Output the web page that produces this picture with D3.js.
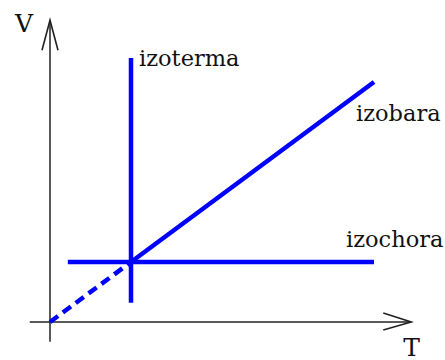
<!DOCTYPE html>
<html>
<head>
<meta charset="utf-8">
<script src="https://cdn.jsdelivr.net/npm/d3@7"></script>
<style>
  body { margin: 0; background: #fff; }
</style>
</head>
<body>
<div id="chart"></div>
<script>
// dane (T, V) w jednostkach względnych: T0 = 1, V0 = 1
const izotermaT = [1, 1];
const izotermaV = [0.32, 4.4];
const izochoraT = [0.22, 4];
const izochoraV = [1, 1];
const izobaraT = [1, 4];
const izobaraV = [1, 4];
const ekstrapolacjaT = [0, 1];
const ekstrapolacjaV = [0, 1];
const osT = [-0.25, 4.46];
const osV = [-0.33, 5.03];
const etykiety = ["izoterma", "izobara", "izochora"];
const nazwyOsi = ["T", "V"];

const width = 445, height = 360;
const czcionka = "'DejaVu Serif', serif";

const x = d3.scaleLinear().domain([0, 4]).range([50, 374]);
const y = d3.scaleLinear().domain([0, 4]).range([322, 82]);

const svg = d3.select("#chart")
  .append("svg")
  .attr("width", width)
  .attr("height", height);

const line = d3.line().x(d => x(d[0])).y(d => y(d[1]));

// osie
svg.append("path")
  .attr("d", line([[osT[0], 0], [osT[1], 0]]))
  .attr("stroke", "#222").attr("stroke-width", 1.5).attr("fill", "none");
svg.append("path")
  .attr("d", line([[0, osV[0]], [0, osV[1]]]))
  .attr("stroke", "#222").attr("stroke-width", 1.5).attr("fill", "none");

// groty strzałek (otwarte)
const tx = x(osT[1]), ty = y(0);
svg.append("path")
  .attr("d", `M${tx - 28},${ty - 9}L${tx},${ty}L${tx - 28},${ty + 8}`)
  .attr("stroke", "#222").attr("stroke-width", 1.6).attr("fill", "none");
const vx = x(0), vy = y(osV[1]);
svg.append("path")
  .attr("d", `M${vx - 8},${vy + 30}L${vx},${vy}L${vx + 8},${vy + 30}`)
  .attr("stroke", "#222").attr("stroke-width", 1.6).attr("fill", "none");

// linie przemian
const zip = (a, b) => a.map((d, i) => [d, b[i]]);

svg.append("path")
  .attr("d", line(zip(ekstrapolacjaT, ekstrapolacjaV)))
  .attr("stroke", "#0000ff").attr("stroke-width", 4.5)
  .attr("stroke-dasharray", "10,6").attr("fill", "none");

[zip(izotermaT, izotermaV), zip(izochoraT, izochoraV), zip(izobaraT, izobaraV)]
  .forEach(d => {
    svg.append("path")
      .attr("d", line(d))
      .attr("stroke", "#0000ff").attr("stroke-width", 4.5)
      .attr("fill", "none");
  });

// etykiety
const napis = (px, py, t, fs) => svg.append("text")
  .attr("x", px).attr("y", py)
  .attr("font-family", czcionka)
  .attr("font-size", fs)
  .attr("fill", "#111")
  .text(t);

napis(x(izotermaT[1]) + 8, y(izotermaV[1]) + 8, etykiety[0], 22.5);
napis(x(izobaraT[1]) - 18, y(izobaraV[1]) + 39, etykiety[1], 22.5);
napis(x(izochoraT[1]) - 28, y(izochoraV[1]) - 15, etykiety[2], 22.5);
napis(tx - 8, ty + 34, nazwyOsi[0], 25);
napis(vx - 35, vy + 12, nazwyOsi[1], 25);
</script>
</body>
</html>
